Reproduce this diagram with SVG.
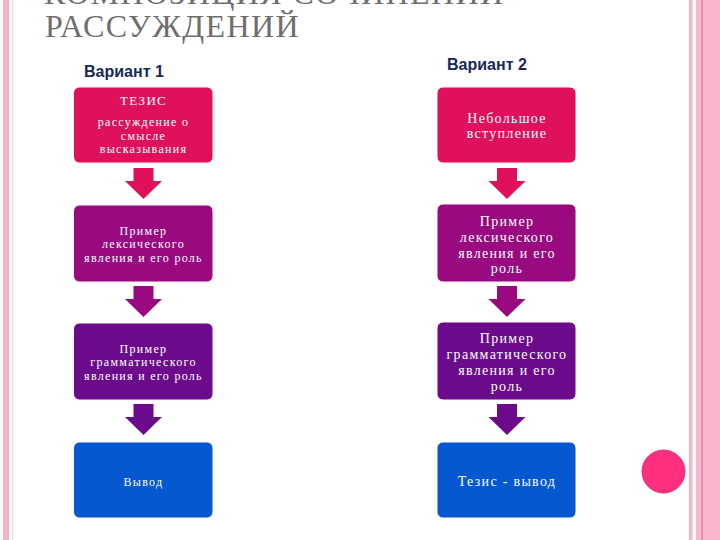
<svg xmlns="http://www.w3.org/2000/svg" width="720" height="540" viewBox="0 0 720 540">
<style>
.title{font-family:"Liberation Serif","Times New Roman",serif;font-size:32px;letter-spacing:1.4px;fill:#6e6e6e}
.var{font-family:"Liberation Sans",Arial,sans-serif;font-size:16px;font-weight:bold;fill:#17295a}
.tl{font-family:"Liberation Serif","Times New Roman",serif;font-size:12px;letter-spacing:1.3px;fill:#ffffff;text-anchor:middle}
.tr{font-family:"Liberation Serif","Times New Roman",serif;font-size:14px;letter-spacing:1.3px;fill:#ffffff;text-anchor:middle}
.n{stroke:#fff6f0;stroke-width:1}
.c1{fill:#e0115c}.c2{fill:#990a80}.c3{fill:#6b0b8c}.c4{fill:#0558d0}
</style>
<defs>
<path id="arr" d="M-10,0 H10 V13 H18.5 L0,31 L-18.5,13 H-10 Z"/>
</defs>
<rect width="720" height="540" fill="#ffffff"/>
<!-- page borders -->
<rect x="3" y="0" width="6" height="540" fill="#f4b0c8"/>
<rect x="12" y="0" width="1.5" height="540" fill="#f8e2ea"/>
<rect x="689" y="0" width="3.5" height="540" fill="#f8b5c9"/>
<rect x="696" y="0" width="24" height="540" fill="#f8b5c9"/>
<rect x="701.5" y="0" width="1.3" height="540" fill="#d97a9c"/>
<circle cx="663.5" cy="471.5" r="21.5" fill="#ff2f80" stroke="#e82a72" stroke-width="1"/>
<!-- title -->
<text class="title" x="44" y="4">КОМПОЗИЦИЯ СОЧИНЕНИЙ-</text>
<text class="title" x="45" y="37">РАССУЖДЕНИЙ</text>
<text class="var" x="84" y="77">Вариант 1</text>
<text class="var" x="447" y="70">Вариант 2</text>
<!-- connectors -->
<g id="connectors">
<use href="#arr" x="143.5" y="168" class="c1"/>
<use href="#arr" x="143.5" y="286" class="c2"/>
<use href="#arr" x="143.5" y="404" class="c3"/>
<use href="#arr" x="507" y="168" class="c1"/>
<use href="#arr" x="507" y="286" class="c2"/>
<use href="#arr" x="507" y="404" class="c3"/>
</g>
<!-- left column -->
<g id="l1"><rect class="n c1" x="73.5" y="87" width="139.5" height="76" rx="6"/>
<text class="tl" x="143.5" y="105" style="font-size:13px">ТЕЗИС</text>
<text class="tl" x="143.5" y="126">рассуждение о</text>
<text class="tl" x="143.5" y="140">смысле</text>
<text class="tl" x="143.5" y="153">высказывания</text></g>
<g id="l2"><rect class="n c2" x="73.5" y="205" width="139.5" height="77" rx="6"/>
<text class="tl" x="143.5" y="235">Пример</text>
<text class="tl" x="143.5" y="248">лексического</text>
<text class="tl" x="143.5" y="262">явления и его роль</text></g>
<g id="l3"><rect class="n c3" x="73.5" y="323" width="139.5" height="77" rx="6"/>
<text class="tl" x="143.5" y="353">Пример</text>
<text class="tl" x="143.5" y="366">грамматического</text>
<text class="tl" x="143.5" y="380">явления и его роль</text></g>
<g id="l4"><rect class="n c4" x="73.5" y="442" width="139.5" height="76" rx="6"/>
<text class="tl" x="143.5" y="486">Вывод</text></g>
<!-- right column -->
<g id="r1"><rect class="n c1" x="437" y="87" width="139" height="76" rx="6"/>
<text class="tr" x="507" y="123">Небольшое</text>
<text class="tr" x="507" y="138">вступление</text></g>
<g id="r2"><rect class="n c2" x="437" y="204" width="139" height="78" rx="6"/>
<text class="tr" x="507" y="226">Пример</text>
<text class="tr" x="507" y="242">лексического</text>
<text class="tr" x="507" y="258">явления и его</text>
<text class="tr" x="507" y="273">роль</text></g>
<g id="r3"><rect class="n c3" x="437" y="322" width="139" height="78" rx="6"/>
<text class="tr" x="507" y="343">Пример</text>
<text class="tr" x="507" y="359">грамматического</text>
<text class="tr" x="507" y="375">явления и его</text>
<text class="tr" x="507" y="391">роль</text></g>
<g id="r4"><rect class="n c4" x="437" y="442" width="139" height="76" rx="6"/>
<text class="tr" x="507" y="486">Тезис - вывод</text></g>
</svg>
